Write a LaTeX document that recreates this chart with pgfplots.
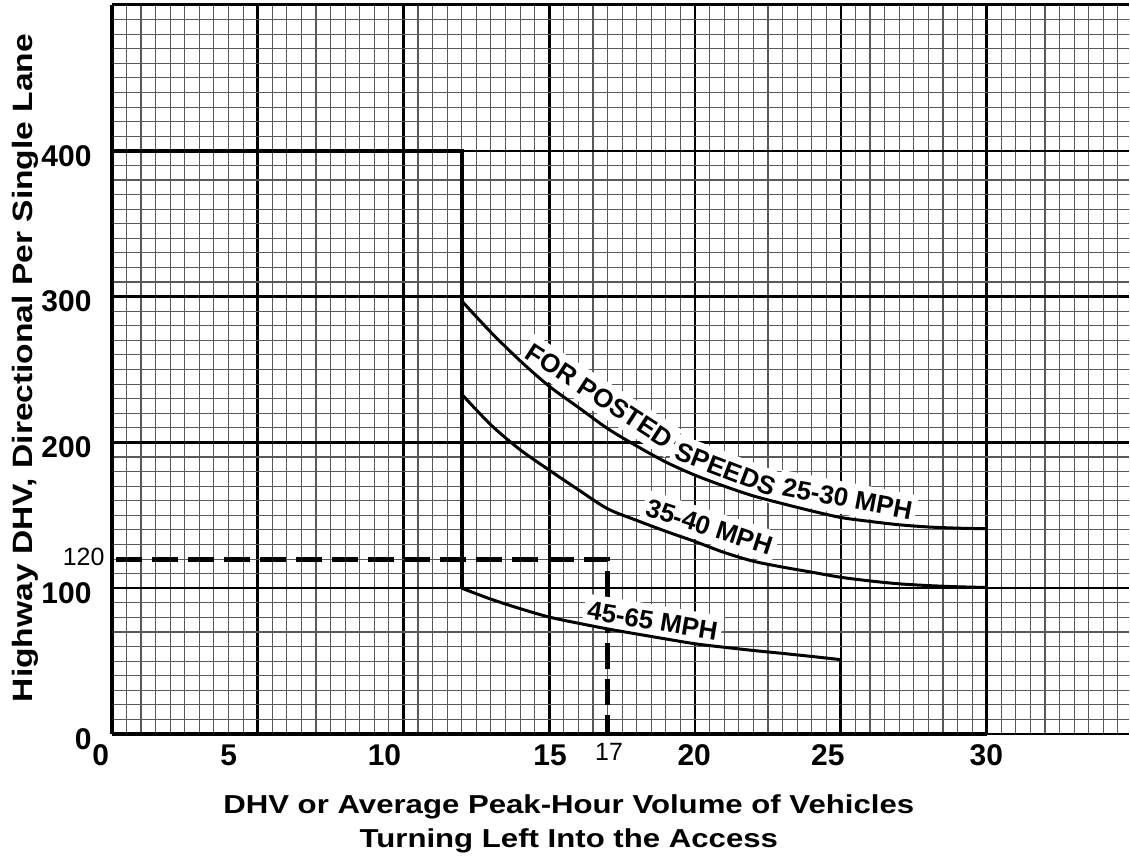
\documentclass[border=0pt]{standalone}
\usepackage{fontspec}
\setmainfont{Liberation Sans}
\newfontfamily\widesans[FakeStretch=1.2]{Liberation Sans}
\usepackage{pgfplots}
\pgfplotsset{compat=1.18}
\begin{document}
\begin{tikzpicture}
\begin{axis}[
  scale only axis, width=509pt, height=365pt,
  xmin=0, xmax=34.863, ymin=0, ymax=500,
  xtick={0,5,...,35}, ytick={0,100,...,500},
  minor xtick={0,0.5,...,35}, minor ytick={0,10,...,500},
  xticklabels={{},{},{},{},{},{},{},{}}, yticklabels={0,100,200,300,400,{}},
  major tick length=0pt, minor tick length=0pt,
  grid=both,
  major grid style={black, line width=1.25pt},
  minor grid style={black!65, line width=0.55pt},
  axis line style={draw=none},
  yticklabel style={font=\fontsize{15}{18}\selectfont\bfseries, inner sep=0pt, xshift=-10pt, yshift=-2.5pt},
  clip=false, no markers,
]
% dashed reference line
\addplot[draw=black, line width=2.5pt, dash pattern=on 13pt off 5pt] coordinates {(0.15,120) (17,120) (17,0)};

% curve labels (white boxes)
\tikzset{clab/.style={fill=white, inner xsep=2pt, inner ysep=3.5pt, anchor=south, font=\fontsize{13}{15}\selectfont\bfseries}}
\node[clab, rotate=-33, yshift=3pt] at (axis cs:16.3,219) {FOR POSTED};
\node[clab, rotate=-21, yshift=0pt] at (axis cs:20.85,171) {SPEEDS};
\node[clab, rotate=-10.6, yshift=1.5pt] at (axis cs:25.1,148.2) {25-30 MPH};
\node[clab, rotate=-18, yshift=1pt] at (axis cs:20.3,129.9) {35-40 MPH};
\node[clab, rotate=-9.4, yshift=-0.5pt] at (axis cs:18.46,67.1) {45-65 MPH};

% outline
\addplot[draw=black, line width=2pt] coordinates {(0,0) (0,500)};
\addplot[draw=black, line width=1.5pt] coordinates {(0,500) (34.863,500)};
\addplot[draw=black, line width=2pt] coordinates {(0,0) (30,0)};
\addplot[draw=black, line width=2pt] coordinates {(0,400) (12,400) (12,100)};
\addplot[draw=black, line width=1.75pt] coordinates {(30,0) (30,140.8)};
\addplot[draw=black, line width=1.5pt] coordinates {(25,0) (25,51)};

% curves
\addplot[draw=black, line width=1.5pt, smooth] coordinates {
(12,297) (13,275.5) (14,256) (15,238.5) (16,224) (17,209.5) (18,197.5) (19,186.5)
(20,177.5) (21,170) (22,163.3) (23,158) (24,153) (25,148.5) (26,145.8) (27,143.5)
(28,142) (29,141.2) (30,140.8)};
\addplot[draw=black, line width=1.5pt, smooth] coordinates {
(12,233) (13,212) (14,195) (15,181) (16,167.5) (17,154.5) (18,146.5) (19,139)
(20,132) (21,124.5) (22,118.5) (23,114.5) (24,111) (25,107.5) (26,105) (27,103)
(28,101.8) (29,101) (30,100.5)};
\addplot[draw=black, line width=1.5pt, smooth] coordinates {
(12,100) (13,92.5) (14,86) (15,80.2) (16,76) (17,72.1) (18,68.6) (19,65.2)
(20,61.9) (21,59.5) (22,57.3) (23,55.3) (24,53.2) (25,51)};

% x tick labels
\tikzset{xlab/.style={anchor=base, inner sep=0pt, yshift=-16pt, font=\fontsize{15}{18}\selectfont\bfseries}}
\node[xlab] at (axis cs:-0.38,0) {0};
\node[xlab] at (axis cs:4.01,0) {5};
\node[xlab] at (axis cs:9.35,0) {10};
\node[xlab] at (axis cs:15.03,0) {15};
\node[xlab] at (axis cs:19.97,0) {20};
\node[xlab] at (axis cs:24.55,0) {25};
\node[xlab] at (axis cs:29.99,0) {30};

% marked values
\node[anchor=base, inner sep=0pt, yshift=-13.5pt, font=\fontsize{12.5}{15}\selectfont] at (axis cs:17.05,0) {17};
\node[anchor=east, inner sep=0pt, xshift=-3.5pt, yshift=1pt, font=\fontsize{12.5}{15}\selectfont] at (axis cs:0,120) {120};

% axis titles
\node[anchor=base, inner sep=0pt, yshift=-40pt, font=\widesans\fontsize{13}{15}\selectfont\bfseries] at (axis cs:15.67,0) {DHV or Average Peak-Hour Volume of Vehicles};
\node[anchor=base, inner sep=0pt, yshift=-57pt, font=\widesans\fontsize{13}{15}\selectfont\bfseries] at (axis cs:15.67,0) {Turning Left Into the Access};
\node[xshift=-43.5pt, rotate=90, inner sep=0pt, font=\widesans\fontsize{14}{16}\selectfont\bfseries] at (axis cs:0,251) {Highway DHV, Directional Per Single Lane};

% full picture extent
\path (rel axis cs:-0.110,-0.1726) rectangle (rel axis cs:1,1.00685);
\end{axis}
\end{tikzpicture}
\end{document}
